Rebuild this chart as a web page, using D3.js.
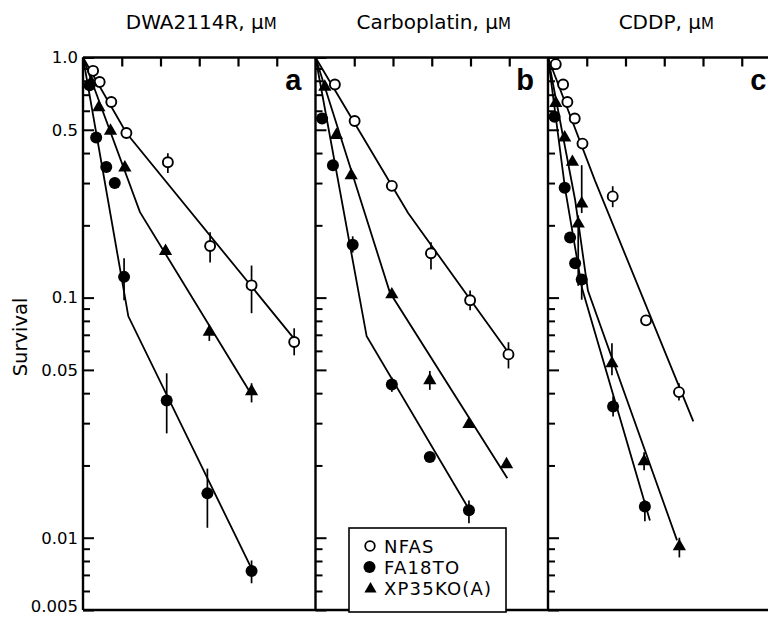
<!DOCTYPE html>
<html>
<head>
<meta charset="utf-8">
<script src="https://cdn.jsdelivr.net/npm/d3@7"></script>
<style>
  html, body { margin: 0; padding: 0; background: #fff; }
  svg { display: block; }
</style>
</head>
<body>
<script>
// ---------------- DATA ----------------
const panelDrugs = ["DWA2114R", "Carboplatin", "CDDP"];
const unitLabel = ["μ", "M"];
const panelLetters = ["a", "b", "c"];
const seriesNames = ["NFAS", "FA18TO", "XP35KO(A)"];
const xTicks = [1, 2, 3, 4, 5];
const yLabelValues = [1, 0.5, 0.1, 0.05, 0.01, 0.005];
const yLabelTexts = ["1.0", "0.5", "0.1", "0.05", "0.01", "0.005"];

// Panel a: DWA2114R  [dose, survival]
const nfasA = [[0.26,0.880],[0.43,0.791],[0.73,0.653],[1.12,0.485],[2.19,0.366],[3.28,0.164],[4.35,0.1125],[5.45,0.0653]];
const nfasAErr = [[1.12,0.512,0.461],[2.19,0.399,0.330],[3.28,0.187,0.140],[4.35,0.136,0.0861],[5.45,0.0745,0.0575]];
const nfasAFit = [[0,1],[1.12,0.485],[5.43,0.068]];
const faA = [[0.17,0.767],[0.34,0.464],[0.60,0.350],[0.82,0.300],[1.06,0.122],[2.16,0.0373],[3.21,0.0153],[4.35,0.00726]];
const faAErr = [[1.06,0.146,0.0975],[2.16,0.0484,0.0272],[3.21,0.0194,0.0110],[4.35,0.00804,0.00646]];
const faAFit = [[0,1],[1.17,0.0836],[4.36,0.00738]];
const xpA = [[0.21,0.789],[0.41,0.619],[0.71,0.495],[1.08,0.348],[2.13,0.156],[3.26,0.0719],[4.35,0.0407]];
const xpAErr = [[3.26,0.077,0.066],[4.35,0.044,0.0366]];
const xpAFit = [[0,1],[1.47,0.227],[4.33,0.0399]];

// Panel b: Carboplatin
const nfasB = [[0.50,0.772],[1.01,0.544],[1.97,0.292],[2.98,0.153],[3.99,0.0975],[4.98,0.0580]];
const nfasBErr = [[2.98,0.170,0.131],[3.99,0.107,0.0885],[4.98,0.0652,0.0507]];
const nfasBFit = [[0,1],[2.39,0.225],[4.99,0.0586]];
const faB = [[0.17,0.557],[0.45,0.356],[0.96,0.166],[1.97,0.0435],[2.95,0.0217],[3.96,0.0130]];
const faBErr = [[0.96,0.180,0.154],[1.97,0.0465,0.0405],[3.96,0.0143,0.0115]];
const faBFit = [[0,1],[1.32,0.069],[3.99,0.0129]];
const xpB = [[0.24,0.754],[0.54,0.475],[0.92,0.323],[1.97,0.103],[2.95,0.0452],[3.96,0.0297],[4.93,0.0202]];
const xpBErr = [[2.95,0.0495,0.0413]];
const xpBFit = [[0,1],[1.92,0.105],[4.95,0.0177]];

// Panel c: CDDP
const nfasC = [[0.20,0.938],[0.39,0.772],[0.50,0.653],[0.69,0.557],[0.89,0.438],[1.67,0.264],[2.53,0.0804],[3.38,0.0404]];
const nfasCErr = [[1.67,0.291,0.238],[3.38,0.0440,0.0373]];
const nfasCFit = [[0,1],[1.21,0.308],[3.75,0.0305]];
const faC = [[0.17,0.566],[0.43,0.287],[0.57,0.178],[0.70,0.139],[0.87,0.119],[1.68,0.0352],[2.50,0.0135]];
const faCErr = [[0.87,0.119,0.098],[1.68,0.0388,0.032],[2.50,0.0143,0.0117]];
const faCFit = [[0,1],[0.44,0.285],[0.88,0.109],[2.63,0.0118]];
const xpC = [[0.20,0.645],[0.43,0.464],[0.63,0.367],[0.87,0.246],[0.78,0.203],[1.65,0.0532],[2.48,0.0208],[3.39,0.0092]];
const xpCErr = [[0.87,0.356,0.225],[0.78,0.220,0.112],[1.65,0.0645,0.0475],[2.48,0.0227,0.0191],[3.39,0.0100,0.00828]];
const xpCFit = [[0,1],[0.70,0.255],[1.03,0.107],[3.33,0.00975]];

const panelSeries = [
  [[nfasA, nfasAErr, nfasAFit], [faA, faAErr, faAFit], [xpA, xpAErr, xpAFit]],
  [[nfasB, nfasBErr, nfasBFit], [faB, faBErr, faBFit], [xpB, xpBErr, xpBFit]],
  [[nfasC, nfasCErr, nfasCFit], [faC, faCErr, faCFit], [xpC, xpCErr, xpCFit]]
];

// ---------------- LAYOUT ----------------
const W = 768, H = 618;
const leftX = 83, panelW = 232.5, topY = 57.5, bottomY = 610;
const font = "'DejaVu Sans', sans-serif";

const svg = d3.select("body").append("svg")
  .attr("width", W).attr("height", H)
  .style("background", "#fff");

const y = d3.scaleLog().domain([0.005, 1]).range([bottomY, topY]);

// minor/major log ticks
const allYTicks = [];
[0.001, 0.01, 0.1].forEach(dec => {
  for (let k = 1; k <= 9; k++) {
    const v = +(k * dec).toPrecision(3);
    if (v >= 0.005 && v <= 1) allYTicks.push(v);
  }
});
allYTicks.push(1);
const majorSet = new Set(yLabelValues);

const lineGen = (x) => d3.line().x(d => x(d[0])).y(d => y(d[1]));
const tri = d3.symbol().type(d3.symbolTriangle).size(76);

// full-width top and bottom lines
svg.append("line").attr("x1", leftX).attr("x2", W).attr("y1", topY).attr("y2", topY)
  .attr("stroke", "#000").attr("stroke-width", 2.4);
svg.append("line").attr("x1", leftX).attr("x2", W).attr("y1", bottomY).attr("y2", bottomY)
  .attr("stroke", "#000").attr("stroke-width", 2.4);

panelDrugs.forEach((drug, i) => {
  const x0 = leftX + i * panelW;
  const x = d3.scaleLinear().domain([0, 6]).range([x0, x0 + panelW]);
  const g = svg.append("g");

  // top ticks (pointing down)
  const topAx = g.append("g").attr("transform", `translate(0,${topY})`)
    .call(d3.axisBottom(x).tickValues(xTicks).tickSize(9).tickSizeOuter(0).tickFormat(""));
  topAx.select(".domain").remove();
  topAx.selectAll(".tick line").attr("stroke-width", 2.2);

  // left axis of the panel with inward ticks
  const la = g.append("g").attr("transform", `translate(${x0},0)`)
    .call(d3.axisRight(y).tickValues(allYTicks).tickSize(11).tickSizeOuter(0).tickFormat(""));
  la.select(".domain").attr("stroke-width", 2.4).attr("d", `M0,${topY}V${bottomY}`);
  la.selectAll(".tick line")
    .attr("x2", d => majorSet.has(d) ? 11 : 7)
    .attr("stroke-width", 2);

  if (i === 0) {
    const lab = g.append("g").attr("transform", `translate(${x0},0)`)
      .call(d3.axisLeft(y).tickValues(yLabelValues).tickSize(0).tickPadding(5)
        .tickFormat((d, k) => yLabelTexts[k]));
    lab.select(".domain").remove();
    lab.selectAll("text").attr("font-family", font).attr("font-size", 16.5).attr("fill", "#000");
    lab.selectAll(".tick").filter(d => d === 0.005).select("text").attr("dy", "0.1em");
  }

  // title
  const t = svg.append("text")
    .attr("x", x0 + panelW / 2 + 2).attr("y", 29)
    .attr("text-anchor", "middle")
    .attr("font-family", font).attr("font-size", 20).attr("fill", "#000");
  t.append("tspan").text(drug + ", " + unitLabel[0]);
  t.append("tspan").attr("font-size", 15).text(unitLabel[1]);

  // panel letter
  svg.append("text")
    .attr("x", x0 + panelW - 14).attr("y", 90)
    .attr("text-anchor", "end")
    .attr("font-family", "'Liberation Sans', Arial, sans-serif")
    .attr("font-weight", "bold").attr("font-size", 29).attr("fill", "#000")
    .text(panelLetters[i]);

  const series = panelSeries[i];
  // fitted lines
  series.forEach(([pts, err, fit]) => {
    g.append("path").datum(fit).attr("d", lineGen(x))
      .attr("fill", "none").attr("stroke", "#000").attr("stroke-width", 1.8);
  });
  // error bars
  series.forEach(([pts, err, fit]) => {
    g.selectAll(null).data(err).enter().append("line")
      .attr("x1", d => x(d[0])).attr("x2", d => x(d[0]))
      .attr("y1", d => y(d[1])).attr("y2", d => y(d[2]))
      .attr("stroke", "#000").attr("stroke-width", 1.7);
  });
  // markers
  series.forEach(([pts], s) => {
    if (s === 0) {
      g.selectAll(null).data(pts).enter().append("circle")
        .attr("cx", d => x(d[0])).attr("cy", d => y(d[1])).attr("r", 5)
        .attr("fill", "#fff").attr("stroke", "#000").attr("stroke-width", 1.9);
    } else if (s === 1) {
      g.selectAll(null).data(pts).enter().append("circle")
        .attr("cx", d => x(d[0])).attr("cy", d => y(d[1])).attr("r", 6)
        .attr("fill", "#000");
    } else {
      g.selectAll(null).data(pts).enter().append("path")
        .attr("transform", d => `translate(${x(d[0])},${y(d[1])})`)
        .attr("d", tri).attr("fill", "#000");
    }
  });
});

// y-axis title
svg.append("text")
  .attr("transform", "translate(27,337) rotate(-90)")
  .attr("text-anchor", "middle")
  .attr("font-family", font).attr("font-size", 19.5).attr("fill", "#000")
  .text("Survival");

// legend
const lg = svg.append("g");
lg.append("rect").attr("x", 349).attr("y", 528).attr("width", 157).attr("height", 84)
  .attr("fill", "#fff").attr("stroke", "#000").attr("stroke-width", 1.6);
const legY = [552.5, 573.5, 594.5];
seriesNames.forEach((name, s) => {
  const cy = legY[s] - 6.5;
  if (s === 0) {
    lg.append("circle").attr("cx", 370).attr("cy", cy).attr("r", 4.8)
      .attr("fill", "#fff").attr("stroke", "#000").attr("stroke-width", 1.8);
  } else if (s === 1) {
    lg.append("circle").attr("cx", 369.5).attr("cy", cy).attr("r", 6).attr("fill", "#000");
  } else {
    lg.append("path").attr("transform", `translate(370.5,${cy + 1})`)
      .attr("d", d3.symbol().type(d3.symbolTriangle).size(64)).attr("fill", "#000");
  }
  lg.append("text").attr("x", 384).attr("y", legY[s])
    .attr("font-family", font).attr("font-size", 18).attr("letter-spacing", 1.2)
    .attr("fill", "#000")
    .text(name);
});
</script>
</body>
</html>
